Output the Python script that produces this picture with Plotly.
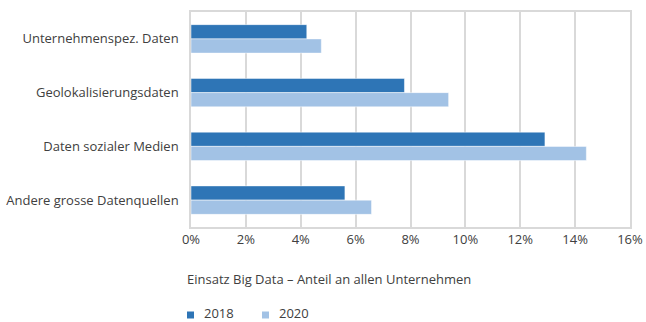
import plotly.graph_objects as go

categories = ["Unternehmenspez. Daten", "Geolokalisierungsdaten", "Daten sozialer Medien", "Andere grosse Datenquellen"]
values_2018 = [0.0422, 0.0778, 0.129, 0.0561]
values_2020 = [0.0475, 0.0939, 0.1441, 0.0658]
series_names = ["2018", "2020"]
tick_vals = [0, 0.02, 0.04, 0.06, 0.08, 0.10, 0.12, 0.14, 0.16]
tick_text = ["0%", "2%", "4%", "6%", "8%", "10%", "12%", "14%", "16%"]

TXT = "#404040"
COLORS = ["#2E75B6", "#A2C2E5"]
FONT = "Open Sans"

W, H = 646, 322
ML, MR, MT, MB = 191, 16, 12, 95
PW, PH = W - ML - MR, H - MT - MB


def px_x(p):
    return (p - ML) / PW


def px_y(p):
    return (H - MB - p) / PH


fig = go.Figure()
for name, vals, col in zip(series_names, [values_2018, values_2020], COLORS):
    fig.add_trace(go.Bar(y=categories, x=vals, name=name, orientation="h", showlegend=False,
                         marker=dict(color=col, line=dict(color="white", width=0.5))))

# custom legend (small squares + labels), laid out in pixels
shapes = []
annotations = [dict(text="Einsatz Big Data – Anteil an allen Unternehmen", xref="paper", yref="paper",
                    x=px_x(185), y=px_y(279), xanchor="left", yanchor="middle", showarrow=False,
                    font=dict(family=FONT, size=13, color=TXT))]
legend_x = [187, 262]
for lx, name, col in zip(legend_x, series_names, COLORS):
    shapes.append(dict(type="rect", xref="paper", yref="paper",
                       x0=px_x(lx), x1=px_x(lx + 7), y0=px_y(318.5), y1=px_y(311.5),
                       fillcolor=col, line=dict(width=0)))
    annotations.append(dict(text=name, xref="paper", yref="paper", x=px_x(lx + 16), y=px_y(312.5),
                            xanchor="left", yanchor="middle", showarrow=False, borderpad=0,
                            font=dict(family=FONT, size=13, color=TXT)))

fig.update_layout(
    width=W, height=H,
    margin=dict(l=ML, r=MR, t=MT, b=MB, autoexpand=False),
    paper_bgcolor="white", plot_bgcolor="white",
    font=dict(family=FONT, size=13, color=TXT),
    barmode="group", bargap=0.47, bargroupgap=0,
    showlegend=False,
    xaxis=dict(range=[0, 0.16], tickvals=tick_vals, ticktext=tick_text,
               showgrid=True, gridcolor="#D9D9D9", gridwidth=1.5,
               showline=True, linecolor="#D9D9D9", linewidth=1.5, mirror=True,
               zeroline=False, ticks="", automargin=False, ticklabeloverflow="allow"),
    yaxis=dict(autorange="reversed", showline=True, linecolor="#D9D9D9", linewidth=1.5,
               mirror=True, ticks="", showgrid=False, automargin=False,
               ticklabelstandoff=8),
    shapes=shapes,
    annotations=annotations,
)

fig.write_html("out.html", config={"displayModeBar": False},
               post_script="document.body.style.margin='0';document.body.style.overflow='hidden';")
